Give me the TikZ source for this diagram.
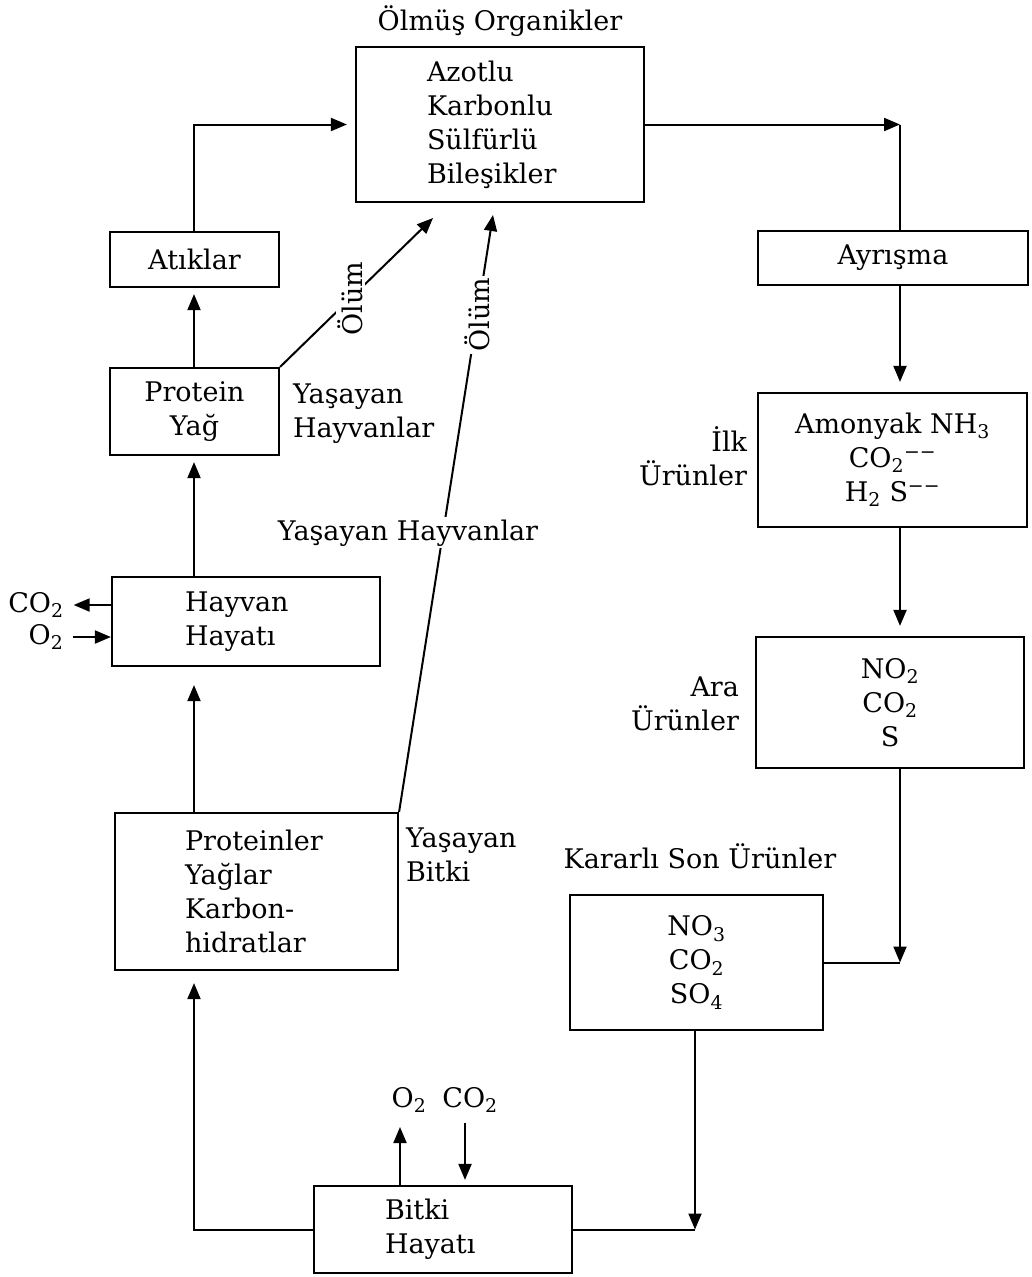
\documentclass[tikz,border=0pt]{standalone}
\usepackage{fontspec}
\setmainfont{DejaVu Serif}
\usetikzlibrary{arrows.meta}
\tikzstyle{box}=[draw, line width=2.2pt, inner sep=0pt, align=center]
\tikzstyle{lbox}=[draw, line width=2.2pt, inner ysep=0pt, align=left]
\tikzstyle{lab}=[inner sep=2pt]

\begin{document}
\begin{tikzpicture}[x=1pt, y=-1pt, line width=2pt,
	>={Triangle[length=16pt,width=13pt]},
	every node/.style={font=\fontsize{27}{34}\selectfont}]

	\useasboundingbox (0,0) rectangle (1032,1277);

	% Boxes with left aligned text
	\node[lbox, inner xsep=71, text width=146, minimum height=155] (org) at (500,124.5) {Azotlu\\Karbonlu\\Sülfürlü\\Bileşikler};
	\node[lbox, inner xsep=73, text width=122, minimum height=89] (hay) at (246,621.5) {Hayvan\\Hayatı};
	\node[lbox, inner xsep=70, text width=143, minimum height=157] (bit) at (256.5,891.5) {Proteinler\\Yağlar\\Karbon-\\hidratlar};
	\node[lbox, inner xsep=71, text width=116, minimum height=87] (bhay) at (443,1229.5) {Bitki\\Hayatı};

	% Boxes with centred text
	\node[box, minimum width=169, minimum height=55] (atik) at (194.5,259.5) {Atıklar};
	\node[box, minimum width=169, minimum height=87] (prot) at (194.5,411.5) {Protein\\Yağ};
	\node[box, minimum width=270, minimum height=54] (ayr) at (893,258) {Ayrışma};
	\node[box, minimum width=269, minimum height=134] (amon) at (892.5,460) {Amonyak NH\textsubscript{3}\\CO\textsubscript{2}\textsuperscript{−−}\\H\textsubscript{2} S\textsuperscript{−−}};
	\node[box, minimum width=268, minimum height=131] (ara) at (890,702.5) {NO\textsubscript{2}\\CO\textsubscript{2}\\S};
	\node[box, minimum width=253, minimum height=135] (son) at (696.5,962.5) {NO\textsubscript{3}\\CO\textsubscript{2}\\SO\textsubscript{4}};

	% Labels
	\node[lab, anchor=base] (ttl) at (500,30) {Ölmüş Organikler};
	\node[lab, anchor=west, align=left] (yhay) at (290,414) {Yaşayan\\Hayvanlar};
	\node[lab, anchor=west, align=left] (ybit) at (403,855) {Yaşayan\\Bitki};
	\node[lab, anchor=east, align=right] (ilk) at (750,456) {İlk\\Ürünler};
	\node[lab, anchor=east, align=right] (arau) at (742,704) {Ara\\Ürünler};
	\node[lab, anchor=base] (kson) at (700,868) {Kararlı Son Ürünler};
	\node[lab, inner xsep=9pt] (co2a) at (36,605) {CO\textsubscript{2}};
	\node[lab, inner xsep=9pt] (o2a) at (46,637) {O\textsubscript{2}};
	\node[lab] (o2b) at (409,1100) {O\textsubscript{2}};
	\node[lab] (co2b) at (470,1100) {CO\textsubscript{2}};

	% Corners and free ends
	\coordinate (cl) at (194,0);
	\coordinate (j1) at (900,124.5);
	\coordinate (j2) at (900,962.5);
	\coordinate (j3) at (695,1229.5);
	\coordinate (olum1) at (433,218);
	\coordinate (olum2) at (493,215);
	\coordinate (o2up) at (400,1127);
	\coordinate (co2dn) at (465,1123);

	% Left column
	\draw[->, shorten >=8pt] (cl |- atik.north) |- (org.west);
	\draw[->, shorten >=6pt] (cl |- prot.north) -- (cl |- atik.south);
	\draw[->, shorten >=6pt] (cl |- hay.north) -- (cl |- prot.south);
	\draw[->, shorten >=18pt] (cl |- bit.north) -- (cl |- hay.south);
	\draw[->, shorten >=12pt] (bhay.west) -| (cl |- bit.south);
	\draw[->] (hay.west |- co2a) -- (co2a);
	\draw[->] (o2a) -- (hay.west |- o2a);
	\draw[->] (o2up |- bhay.north) -- (o2up);
	\draw[->, shorten >=5pt] (co2dn) -- (co2dn |- bhay.north);

	% Death
	\draw[->] (prot.north east) -- node[lab, pos=0.46, rotate=90, fill=white] {Ölüm} (olum1);
	\draw[->] (bit.north east) -- node[lab, pos=0.833, rotate=90, fill=white] {Ölüm} (olum2);
	\node[lab, anchor=base, fill=white] (yhay2) at (408,540) {Yaşayan Hayvanlar};

	% Right column
	\draw[->] (org.east) -- (j1);
	\draw (j1) -- (j1 |- ayr.north);
	\foreach \from/\to in {ayr/amon, amon/ara}
		\draw[->, shorten >=10pt] (j1 |- \from.south) -- (j1 |- \to.north);
	\draw[->] (j1 |- ara.south) -- (j2);
	\draw (son.east) -- (j2);
	\draw[->] (j3 |- son.south) -- (j3);
	\draw (bhay.east) -- (j3);
\end{tikzpicture}
\end{document}
